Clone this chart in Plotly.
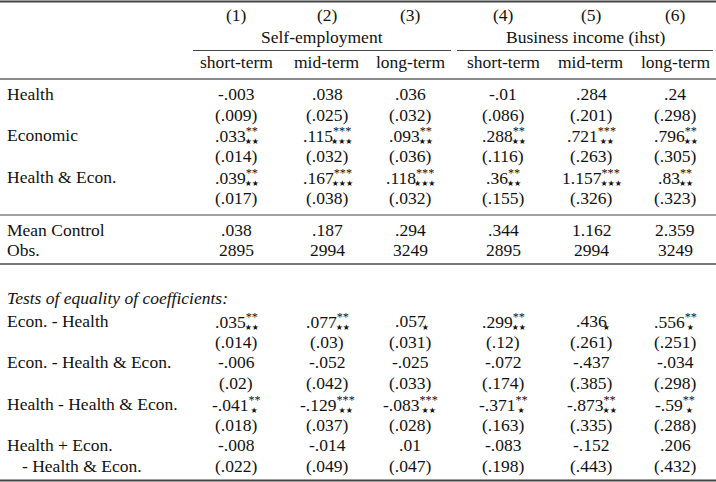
import plotly.graph_objects as go

# table content
col_nums = ["(1)", "(2)", "(3)", "(4)", "(5)", "(6)"]
groups = ["Self-employment", "Business income (ihst)"]
terms = ["short-term", "mid-term", "long-term", "short-term", "mid-term", "long-term"]

main_labels = ["Health", "Economic", "Health & Econ."]
main_coef = [
    ["-.003", ".038", ".036", "-.01", ".284", ".24"],
    [".033", ".115", ".093", ".288", ".721", ".796"],
    [".039", ".167", ".118", ".36", "1.157", ".83"],
]
main_sup = [
    ["", "", "", "", "", ""],
    ["**", "***", "**", "**", "***", "**"],
    ["**", "***", "***", "**", "***", "**"],
]
main_sub = [
    ["", "", "", "", "", ""],
    ["⋆⋆", "⋆⋆⋆", "⋆⋆", "⋆⋆", "⋆⋆", "⋆⋆"],
    ["⋆⋆", "⋆⋆⋆", "⋆⋆⋆", "⋆⋆", "⋆⋆⋆", "⋆⋆"],
]
main_se = [
    ["(.009)", "(.025)", "(.032)", "(.086)", "(.201)", "(.298)"],
    ["(.014)", "(.032)", "(.036)", "(.116)", "(.263)", "(.305)"],
    ["(.017)", "(.038)", "(.032)", "(.155)", "(.326)", "(.323)"],
]

mean_control = [".038", ".187", ".294", ".344", "1.162", "2.359"]
obs = ["2895", "2994", "3249", "2895", "2994", "3249"]

tests_title = "Tests of equality of coefficients:"
test_labels = ["Econ. - Health", "Econ. - Health & Econ.", "Health - Health & Econ.", "Health + Econ."]
test_label2 = ["", "", "", "- Health & Econ."]
test_coef = [
    [".035", ".077", ".057", ".299", ".436", ".556"],
    ["-.006", "-.052", "-.025", "-.072", "-.437", "-.034"],
    ["-.041", "-.129", "-.083", "-.371", "-.873", "-.59"],
    ["-.008", "-.014", ".01", "-.083", "-.152", ".206"],
]
test_sup = [
    ["**", "**", "", "**", "", "**"],
    ["", "", "", "", "", ""],
    ["**", "***", "***", "**", "**", "**"],
    ["", "", "", "", "", ""],
]
test_sub = [
    ["⋆⋆", "⋆⋆", "⋆", "⋆⋆", "⋆", "⋆"],
    ["", "", "", "", "", ""],
    ["⋆", "⋆⋆", "⋆⋆", "⋆", "⋆⋆", "⋆"],
    ["", "", "", "", "", ""],
]
test_se = [
    ["(.014)", "(.03)", "(.031)", "(.12)", "(.261)", "(.251)"],
    ["(.02)", "(.042)", "(.033)", "(.174)", "(.385)", "(.298)"],
    ["(.018)", "(.037)", "(.028)", "(.163)", "(.335)", "(.288)"],
    ["(.022)", "(.049)", "(.047)", "(.198)", "(.443)", "(.432)"],
]

# layout (pixel units)
W, H = 716, 482
col_x = [236, 327, 410, 503, 591, 675]
group_x = [322, 586]
label_x = 5
row_h = 20.7
FONT = "Liberation Serif"
FS = 17.5
TXT = "#111"
CLEAR = '<span style="color:rgba(0,0,0,0)">%s</span>'
STAR = '<span style="font-family:DejaVu Sans;font-size:8px">%s</span>'

ann = []


def add(x, y, text, anchor="center", size=FS):
    ann.append(dict(x=x, y=y, text=text, xref="x", yref="y", showarrow=False,
                    xanchor=anchor, yanchor="middle",
                    font=dict(family=FONT, size=size, color=TXT)))


def add_cell(x, y, num, sup, sub):
    if not sup and not sub:
        add(x, y, num)
        return
    add(x, y, num + ("<sup>%s</sup>" % sup if sup else ""))
    if sub:
        add(x, y, (CLEAR % num) + "<sub>%s</sub>" % (STAR % sub.replace("⋆", "★")))


# header
for x, t in zip(col_x, col_nums):
    add(x, 15, t)
for x, g in zip(group_x, groups):
    add(x, 37, g)
for x, t in zip(col_x, terms):
    add(x, 62, t)

# main block
y = 94
for i, lab in enumerate(main_labels):
    add(label_x, y, lab, "left")
    for j, x in enumerate(col_x):
        add_cell(x, y, main_coef[i][j], main_sup[i][j], main_sub[i][j])
        add(x, y + row_h, main_se[i][j])
    y += 2 * row_h

add(label_x, 230, "Mean Control", "left")
add(label_x, 250, "Obs.", "left")
for j, x in enumerate(col_x):
    add(x, 230, mean_control[j])
    add(x, 250, obs[j])

# tests block
add(label_x, 298, "<i>%s</i>" % tests_title, "left")
y = 321
for i, lab in enumerate(test_labels):
    add(label_x, y, lab, "left")
    if test_label2[i]:
        add(label_x + 15, y + row_h, test_label2[i], "left")
    for j, x in enumerate(col_x):
        add_cell(x, y, test_coef[i][j], test_sup[i][j], test_sub[i][j])
        add(x, y + row_h, test_se[i][j])
    y += 2 * row_h

# rules
rules = [
    (0, W, 1.5, 2.2, "#444"),
    (193, 451, 50.5, 1.2, "#444"),
    (457, 713, 50.5, 1.2, "#444"),
    (0, W, 79, 1.6, "#666"),
    (0, W, 215, 1.0, "#444"),
    (0, W, 264, 2.0, "#777"),
    (0, W, 480.5, 2.2, "#444"),
]
shapes = [dict(type="line", xref="x", yref="y", x0=a, x1=b, y0=yy, y1=yy,
               line=dict(color=c, width=w)) for a, b, yy, w, c in rules]

fig = go.Figure()
fig.update_layout(
    width=W, height=H,
    margin=dict(l=0, r=0, t=0, b=0),
    paper_bgcolor="white", plot_bgcolor="white",
    xaxis=dict(range=[0, W], visible=False, fixedrange=True),
    yaxis=dict(range=[H, 0], visible=False, fixedrange=True),
    annotations=ann,
    shapes=shapes,
    showlegend=False,
)
fig.write_html("out.html", config={"displayModeBar": False},
               post_script="document.body.style.margin='0';document.body.style.overflow='hidden';")
